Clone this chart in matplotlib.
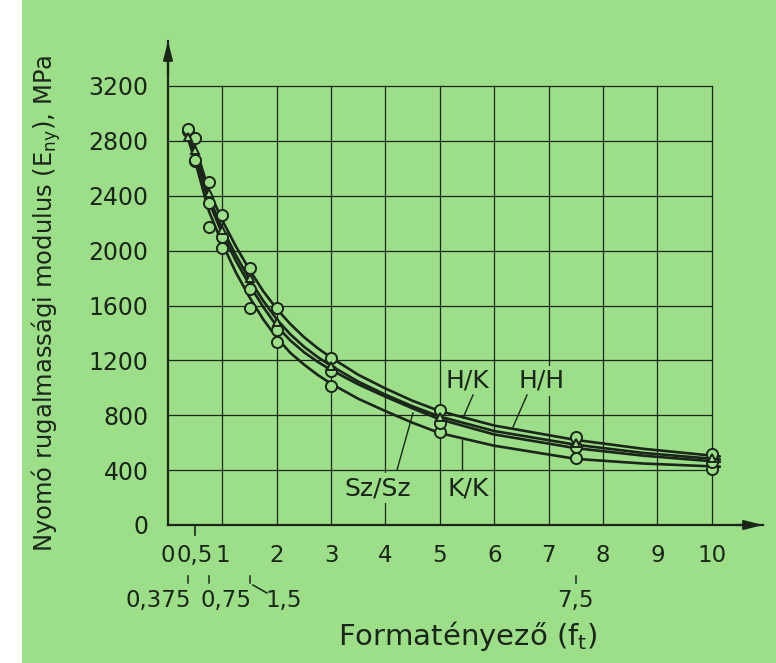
import matplotlib
matplotlib.use('Agg')
import matplotlib.pyplot as plt
import matplotlib.transforms as mtransforms
from matplotlib.patches import Rectangle

plt.rcParams['font.family'] = ['DejaVu Sans']
plt.rcParams['mathtext.default'] = 'regular'

# ---------------- data ----------------
# measured points (x = form factor f_t)
mx = [0.375, 0.5, 0.75, 1, 1.5, 2, 3, 5, 7.5, 10]
hh_pts = [2890, 2820, 2500, 2260, 1875, 1580, 1220, 835, 640, 520]
hk_pts = [2830, 2730, 2420, 2150, 1800, 1480, 1160, 790, 600, 490]
ss_pts = [2880, 2660, 2350, 2100, 1720, 1420, 1120, 745, 570, 460]
kk_pts = [2870, 2650, 2170, 2020, 1585, 1335, 1010, 680, 485, 410]

# fitted curves
cx = [0.35, 0.5, 0.75, 1, 1.25, 1.5, 1.75, 2, 2.25, 2.5, 2.75, 3, 3.5, 4, 4.5, 5, 6, 7.5, 8.75, 10.15]
hh_curve = [2880, 2760, 2440, 2220, 2030, 1860, 1705, 1575, 1465, 1370, 1290, 1220,
            1095, 995, 905, 830, 725, 620, 555, 500]
hk_curve = [2870, 2720, 2390, 2160, 1965, 1790, 1635, 1500, 1390, 1300, 1225, 1160,
            1045, 950, 865, 790, 685, 585, 525, 478]
ss_curve = [2860, 2700, 2360, 2120, 1925, 1750, 1590, 1450, 1345, 1260, 1190, 1130,
            1025, 935, 850, 770, 660, 560, 505, 460]
kk_curve = [2840, 2650, 2290, 2050, 1840, 1660, 1500, 1365, 1255, 1170, 1095, 1030,
            920, 830, 745, 670, 578, 482, 448, 425]

yticks = [0, 400, 800, 1200, 1600, 2000, 2400, 2800, 3200]
xticks = [0, 0.5, 1, 2, 3, 4, 5, 6, 7, 8, 9, 10]
xticklabels = ['0', '0,5', '1', '2', '3', '4', '5', '6', '7', '8', '9', '10']
extra_ticks = [0.375, 0.75, 1.5, 7.5]
extra_labels = ['0,375', '0,75', '1,5', '7,5']
grid_x = [1, 2, 3, 4, 5, 6, 7, 8, 9, 10]

# ---------------- layout ----------------
W, H = 776, 663
bg = '#9cdf88'
ink = '#1b261b'

X0_PX, PX_PER_X = 168, 54.37
Y0_PX, PX_PER_Y = 525, (525 - 86) / 3200

def px2x(p):
    return (p - X0_PX) / PX_PER_X

def py2y(p):
    return (Y0_PX - p) / PX_PER_Y

fig = plt.figure(figsize=(W / 100, H / 100), dpi=100)
fig.patch.set_facecolor('white')
fig.patches.append(Rectangle((22 / W, 0), 1 - 22 / W, 1, transform=fig.transFigure,
                             facecolor=bg, edgecolor='none', zorder=-10))

right_px, top_px = 763, 41
ax = fig.add_axes([X0_PX / W, 1 - Y0_PX / H, (right_px - X0_PX) / W, (Y0_PX - top_px) / H])
ax.set_facecolor('none')
xend, yend = px2x(right_px), py2y(top_px)
ax.set_xlim(0, xend)
ax.set_ylim(0, yend)

for s in ['top', 'right']:
    ax.spines[s].set_visible(False)
for s in ['left', 'bottom']:
    ax.spines[s].set_color(ink)
    ax.spines[s].set_linewidth(1.6)

# grid
for v in yticks[1:]:
    ax.plot([0, 10], [v, v], color=ink, lw=0.9, zorder=1)
for gx in grid_x:
    ax.plot([gx, gx], [0, 3200], color=ink, lw=0.9, zorder=1)

# arrows
ax.annotate('', xy=(xend, 0), xytext=(xend - 0.5, 0), annotation_clip=False,
            arrowprops=dict(arrowstyle='-|>,head_length=1.1,head_width=0.28',
                            color=ink, lw=1.6, shrinkA=0, shrinkB=0))
ax.annotate('', xy=(0, yend), xytext=(0, yend - 250), annotation_clip=False,
            arrowprops=dict(arrowstyle='-|>,head_length=1.1,head_width=0.28',
                            color=ink, lw=1.6, shrinkA=0, shrinkB=0))

# ticks
ax.set_yticks(yticks)
ax.set_yticklabels([str(v) for v in yticks], fontsize=17, color=ink)
ax.set_xticks(xticks)
ax.set_xticklabels(xticklabels, fontsize=16.5, color=ink)
ax.tick_params(axis='both', length=0)
ax.tick_params(axis='y', pad=14)
ax.tick_params(axis='x', pad=14)

tr = mtransforms.blended_transform_factory(ax.transData, fig.transFigure)
def fy(p):
    return 1 - p / H

# small tick at 0.5 below axis
ax.plot([0.5, 0.5], [fy(525), fy(535)], transform=tr, color=ink, lw=1.2, clip_on=False)

# second row of labels
for xv in extra_ticks:
    ax.plot([xv, xv], [fy(576), fy(583)], transform=tr, color=ink, lw=1.1, clip_on=False)
ax.plot([1.56, 1.82], [fy(585), fy(593)], transform=tr, color=ink, lw=1.1, clip_on=False)
ax.text(px2x(191), fy(601), extra_labels[0], transform=tr, ha='right', va='center', fontsize=16.5, color=ink)
ax.text(px2x(201), fy(601), extra_labels[1], transform=tr, ha='left', va='center', fontsize=16.5, color=ink)
ax.text(px2x(265), fy(601), extra_labels[2], transform=tr, ha='left', va='center', fontsize=16.5, color=ink)
ax.text(7.5, fy(601), extra_labels[3], transform=tr, ha='center', va='center', fontsize=16.5, color=ink)

# axis labels
ax.set_ylabel('Nyomó rugalmassági modulus (E$_{ny}$), MPa', fontsize=17.5, color=ink)
ax.yaxis.label.set_va('center')
ax.yaxis.set_label_coords((46 - X0_PX) / (right_px - X0_PX), (Y0_PX - 303) / (Y0_PX - top_px))
ax.set_xlabel('Formatényező (f$_{t}$)', fontsize=21, color=ink)
ax.xaxis.label.set_va('center')
ax.xaxis.set_label_coords((468 - X0_PX) / (right_px - X0_PX), (Y0_PX - 636) / (Y0_PX - top_px))

# curves
for cy in [hh_curve, hk_curve, ss_curve, kk_curve]:
    ax.plot(cx, cy, color=ink, lw=1.9, zorder=4, solid_capstyle='round', solid_joinstyle='round')

# markers
for pts, mk, ms in [(kk_pts, 'o', 8), (ss_pts, 'o', 8), (hh_pts, 'o', 8), (hk_pts, '^', 5.5)]:
    ax.plot(mx, pts, ls='none', marker=mk, ms=ms, mfc=bg, mec=ink, mew=1.4, zorder=5, clip_on=False)

# curve labels with leader lines
lbl = dict(fontsize=18, color=ink, ha='center', va='center', zorder=3,
           bbox=dict(boxstyle='square,pad=0.12', facecolor=bg, edgecolor='none'))
ax.text(px2x(467), py2y(381), 'H/K', **lbl)
ax.text(px2x(542), py2y(381), 'H/H', **lbl)
ax.text(px2x(378), py2y(488), 'Sz/Sz', **lbl)
ax.text(px2x(468), py2y(488), 'K/K', **lbl)
leaders = [((473, 395), (463, 418)), ((527, 395), (513, 427)),
           ((397, 470), (413, 413)), ((462, 470), (462, 440))]
for (a, b) in leaders:
    ax.plot([px2x(a[0]), px2x(b[0])], [py2y(a[1]), py2y(b[1])], color=ink, lw=1.0, zorder=3)

fig.savefig('out.png', dpi=100, facecolor=fig.get_facecolor())
